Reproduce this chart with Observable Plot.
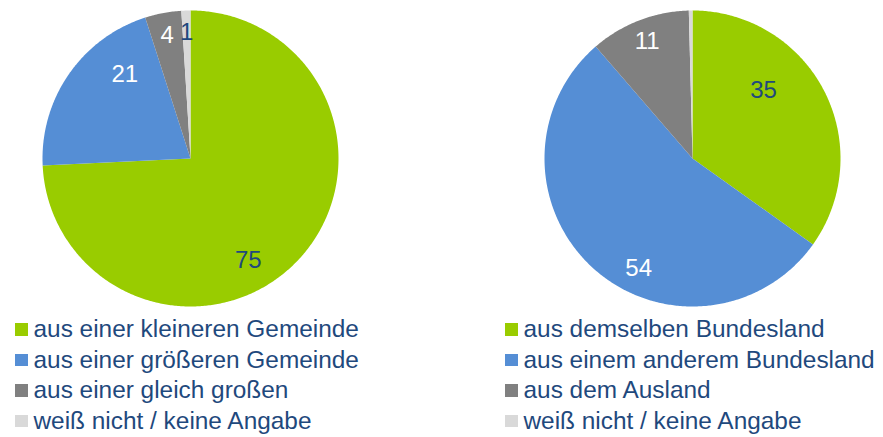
<!DOCTYPE html>
<html><head><meta charset="utf-8">
<script src="https://cdn.jsdelivr.net/npm/d3@7"></script>
<script src="https://cdn.jsdelivr.net/npm/@observablehq/plot@0.6"></script>
<style>
body{margin:0;background:#fff;font-family:"Liberation Sans",Arial,sans-serif;}
#wrap{position:relative;width:883px;height:437px;overflow:hidden;}
.pie{position:absolute;top:8px;}
.legend{position:absolute;top:314px;}
.row{display:flex;align-items:center;height:30.5px;line-height:30px;font-size:24.4px;color:#1F497D;white-space:nowrap;}
.sw{width:12.5px;height:12.5px;margin-right:6px;flex:none;}
</style></head><body><div id="wrap"></div>
<script>
// ---- data ----
const leftCategories = ["aus einer kleineren Gemeinde", "aus einer größeren Gemeinde", "aus einer gleich großen", "weiß nicht / keine Angabe"];
const leftValues = [75, 21, 4, 1];
const rightCategories = ["aus demselben Bundesland", "aus einem anderem Bundesland", "aus dem Ausland", "weiß nicht / keine Angabe"];
const rightValues = [35, 54, 11, 0.4];
const sliceColors = ["#99CC00", "#558ED5", "#808080", "#D9D9D9"];
const labelDark = [true, false, false, true];

const wrap = document.getElementById("wrap");

function pieChart(categories, values, leftPx) {
  const rows = categories.map((c, i) => ({cat: c, value: values[i], i}));
  const total = d3.sum(values);
  const arcs = d3.pie().sort(null).value(d => d.value)(rows);
  const poly = [];
  const labels = [];
  for (const a of arcs) {
    const n = Math.max(2, Math.ceil((a.endAngle - a.startAngle) / 0.01));
    poly.push({cat: a.data.cat, x: 0, y: 0});
    for (let k = 0; k <= n; k++) {
      const t = a.startAngle + (a.endAngle - a.startAngle) * k / n;
      poly.push({cat: a.data.cat, x: Math.sin(t), y: Math.cos(t)});
    }
    if (a.data.value >= 1) {
      const m = (a.startAngle + a.endAngle) / 2;
      // best-fit style placement: large slices stretched vertically, small ones near the rim
      const big = a.data.value / total > 0.15;
      const kx = big ? 0.54 : 0.85, ky = big ? 1.0 : 0.85;
      labels.push({text: String(Math.round(a.data.value)), x: kx * Math.sin(m), y: ky * Math.cos(m), dark: labelDark[a.data.i]});
    }
  }
  const chart = Plot.plot({
    width: 300, height: 300, margin: 2,
    x: {domain: [-1, 1], axis: null},
    y: {domain: [-1, 1], axis: null},
    color: {domain: categories, range: sliceColors},
    style: {fontFamily: "'Liberation Sans', Arial, sans-serif", background: "transparent"},
    marks: [
      Plot.line(poly, {x: "x", y: "y", z: "cat", fill: "cat", stroke: null, curve: "linear"}),
      Plot.text(labels.filter(d => d.dark), {x: "x", y: "y", text: "text", fill: "#1F497D", fontSize: 24}),
      Plot.text(labels.filter(d => !d.dark), {x: "x", y: "y", text: "text", fill: "#ffffff", fontSize: 24})
    ]
  });
  chart.classList.add("pie");
  chart.style.left = leftPx + "px";
  wrap.appendChild(chart);
}

function legend(categories, leftPx) {
  const div = document.createElement("div");
  div.className = "legend";
  div.style.left = leftPx + "px";
  categories.forEach((c, i) => {
    const row = document.createElement("div");
    row.className = "row";
    const sw = document.createElement("span");
    sw.className = "sw";
    sw.style.background = sliceColors[i];
    const tx = document.createElement("span");
    tx.textContent = c;
    row.appendChild(sw); row.appendChild(tx);
    div.appendChild(row);
  });
  wrap.appendChild(div);
}

pieChart(leftCategories, leftValues, 40);
pieChart(rightCategories, rightValues, 542);
legend(leftCategories, 15);
legend(rightCategories, 505);
</script>
</body></html>
